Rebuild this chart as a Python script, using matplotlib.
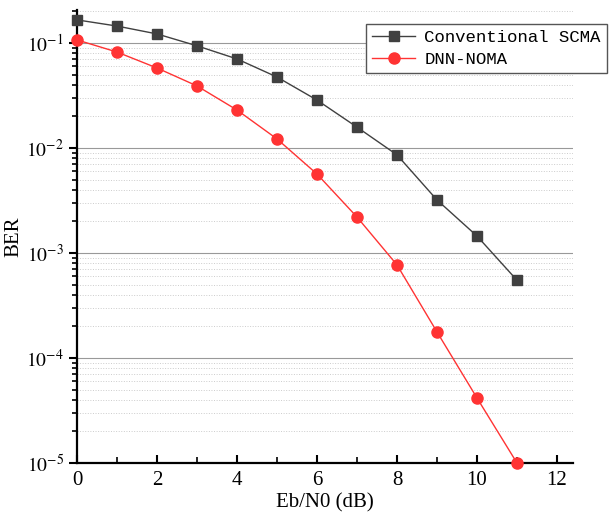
import numpy as np
import matplotlib.pyplot as plt
from matplotlib.ticker import LogLocator, FixedLocator, NullFormatter

# Eb/N0 (dB)
snr = [0, 1, 2, 3, 4, 5, 6, 7, 8, 9, 10, 11]
ber_scma = [0.166, 0.145, 0.122, 0.094, 0.0705, 0.0474, 0.0286, 0.0158,
            0.0086, 0.0032, 0.00145, 0.00055]
ber_dnn = [0.107, 0.082, 0.0578, 0.039, 0.023, 0.0122, 0.00565, 0.0022,
           0.00077, 0.000177, 4.16e-5, 1.0e-5]

x_ticks = [0, 2, 4, 6, 8, 10, 12]
y_ticks = [1e-5, 1e-4, 1e-3, 1e-2, 1e-1]
y_labels = ['$10^{-5}$', '$10^{-4}$', '$10^{-3}$', '$10^{-2}$', '$10^{-1}$']

plt.rcParams['font.family'] = 'Liberation Serif'
plt.rcParams['mathtext.fontset'] = 'stix'

fig = plt.figure(figsize=(6.09, 5.29), dpi=100)
ax = fig.add_axes([77 / 609, 1 - 463 / 529, (573 - 77) / 609, (463 - 10) / 529])

ax.semilogy(snr, ber_scma, color='#404040', lw=1.0, marker='s', ms=6.5,
            mfc='#404040', mec='#404040', label='Conventional SCMA', clip_on=False, zorder=3)
ax.semilogy(snr, ber_dnn, color='#ff3333', lw=1.0, marker='o', ms=8,
            mfc='#ff3333', mec='#ff3333', label='DNN-NOMA', clip_on=False, zorder=3)

ax.set_xlim(0, 12.4)
ax.set_ylim(1e-5, 10 ** (-1 + 33 / 105))

ax.set_xticks(x_ticks)
ax.xaxis.set_minor_locator(FixedLocator([1, 3, 5, 7, 9, 11]))
ax.set_yticks(y_ticks)
ax.set_yticklabels(y_labels)
ax.yaxis.set_minor_locator(LogLocator(base=10, subs=np.arange(2, 10)))
ax.yaxis.set_minor_formatter(NullFormatter())

ax.tick_params(axis='x', which='major', direction='in', length=6, width=1.5, labelsize=15, pad=6)
ax.tick_params(axis='x', which='minor', direction='in', length=4, width=1.2)
ax.tick_params(axis='y', which='major', direction='out', length=6, width=1.5, labelsize=14)
ax.tick_params(axis='y', which='minor', direction='out', length=3.5, width=1.2)

ax.grid(True, axis='y', which='major', color='#999999', lw=0.8, ls='-')
ax.grid(True, axis='y', which='minor', color='#cccccc', lw=0.7, ls=':')
ax.set_axisbelow(True)

for s in ['top', 'right']:
    ax.spines[s].set_visible(False)
for s in ['left', 'bottom']:
    ax.spines[s].set_linewidth(1.6)

ax.set_xlabel('Eb/N0 (dB)', fontsize=15, labelpad=2)
ax.set_ylabel('BER', fontsize=15, labelpad=2)

leg = ax.legend(loc='upper left', bbox_to_anchor=(366 / 609, 1 - 24 / 529),
                bbox_transform=fig.transFigure, frameon=True, fancybox=False,
                prop={'family': 'Liberation Mono', 'size': 12.5}, borderpad=0.35,
                handlelength=2.5, labelspacing=0.4, handletextpad=0.5, borderaxespad=0)
leg.get_frame().set_edgecolor('#555555')
leg.get_frame().set_linewidth(1.0)
leg.get_frame().set_alpha(1)

fig.savefig('out.png', dpi=100)
